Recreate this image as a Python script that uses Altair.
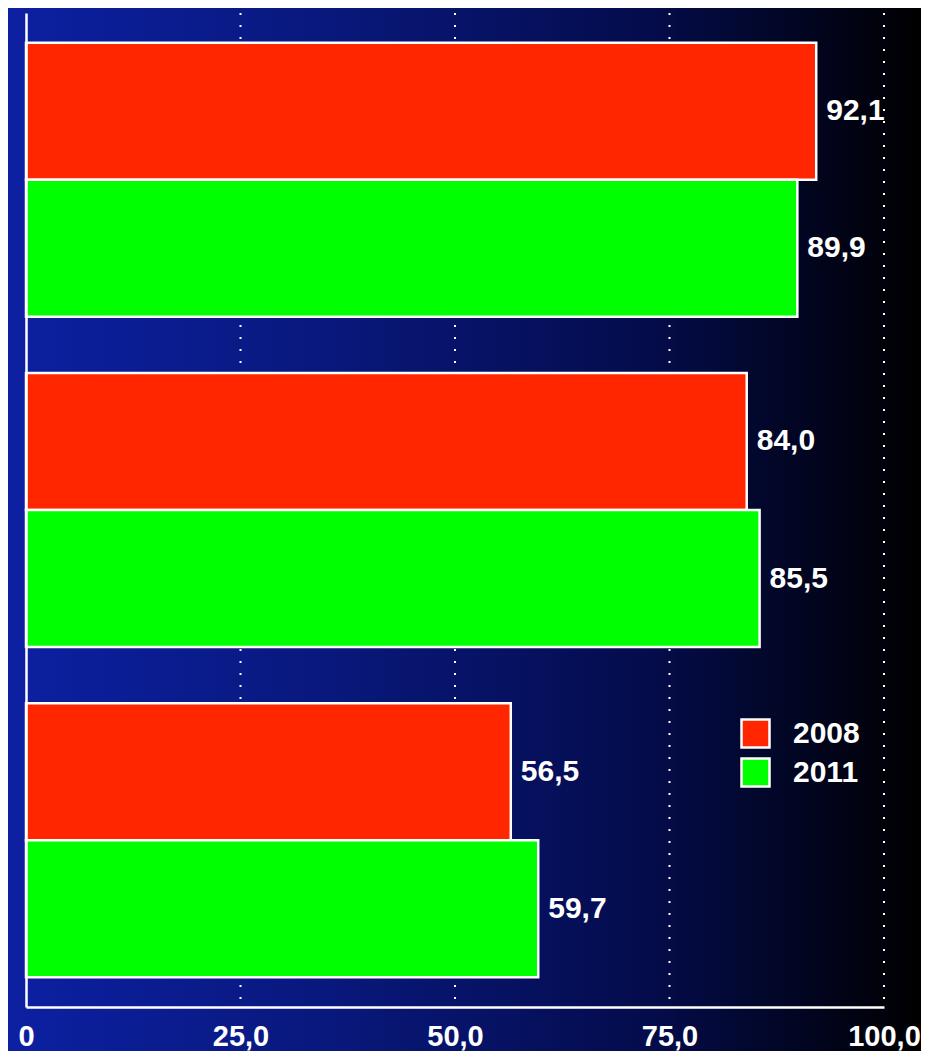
import altair as alt
import pandas as pd

groups = ["1", "2", "3"]
years = ["2008", "2011"]
values_2008 = [92.1, 84.0, 56.5]
values_2011 = [89.9, 85.5, 59.7]
x_ticks = [0, 25, 50, 75, 100]
colors = ["#FF2600", "#00FF00"]

rows = []
for g, a, b in zip(groups, values_2008, values_2011):
    rows.append({"group": g, "year": years[0], "value": a})
    rows.append({"group": g, "year": years[1], "value": b})
df = pd.DataFrame(rows)

W, H = 858, 994
PAD = {"left": 18, "top": 5, "right": 37, "bottom": 44}
FONT = "Liberation Sans"

bg = alt.Chart(pd.DataFrame({"k": [0]})).mark_rect(
    fill=alt.LinearGradient(
        gradient="linear", x1=0, y1=0, x2=1, y2=0,
        stops=[
            alt.GradientStop(color="#0c20a2", offset=0),
            alt.GradientStop(color="#09187c", offset=0.35),
            alt.GradientStop(color="#040c4c", offset=0.7),
            alt.GradientStop(color="#000000", offset=1),
        ],
    ),
    strokeWidth=0,
).encode(
    x=alt.value(-PAD["left"]), x2=alt.value(W + PAD["right"]),
    y=alt.value(-PAD["top"]), y2=alt.value(H + PAD["bottom"]),
)

x_scale = alt.Scale(domain=[0, 100], nice=False, zero=True)

grid = alt.Chart(pd.DataFrame({"tick": x_ticks[1:]})).mark_rule(
    color="white", strokeDash=[2, 10], strokeWidth=2
).encode(x=alt.X("tick:Q", scale=x_scale, title=None))

base = alt.Chart(df).transform_calculate(
    label="replace(format(datum.value, '.1f'), '.', ',')"
)

y_enc = alt.Y(
    "group:N", sort=groups, title=None,
    scale=alt.Scale(paddingInner=0.17, paddingOuter=0.09),
    axis=alt.Axis(labels=False, ticks=False, grid=False, domain=True,
                  domainColor="white", domainWidth=2.5, zindex=1),
)
yoff = alt.YOffset("year:N", sort=years, scale=alt.Scale(paddingInner=0, paddingOuter=0))
x_enc = alt.X(
    "value:Q", scale=x_scale, title=None,
    axis=alt.Axis(
        values=x_ticks,
        labelExpr="datum.value == 0 ? '0' : replace(format(datum.value, '.1f'), '.', ',')",
        grid=False, ticks=False, domainColor="white", domainWidth=2.5,
        labelColor="white", labelFontSize=29, labelFontWeight="bold",
        labelFont=FONT, labelPadding=15, labelFlush=False, labelOverlap=False, zindex=1,
    ),
)

bars = base.mark_bar(stroke="white", strokeWidth=2.5).encode(
    x=x_enc, y=y_enc, yOffset=yoff,
    color=alt.Color(
        "year:N", sort=years,
        scale=alt.Scale(domain=years, range=colors),
        legend=alt.Legend(
            orient="none", legendX=714, legendY=705, title=None,
            symbolType="square", symbolSize=784, symbolStrokeColor="white",
            symbolStrokeWidth=2.5, symbolOpacity=1,
            labelColor="white", labelFontSize=30, labelFontWeight="bold",
            labelFont=FONT, labelOffset=22, rowPadding=0,
        ),
    ),
)

text = base.mark_text(
    align="left", baseline="middle", dx=10, fontSize=30, fontWeight="bold",
    color="white", font=FONT,
).encode(x=alt.X("value:Q", scale=x_scale), y=alt.Y("group:N", sort=groups), yOffset=yoff, text="label:N")

chart = alt.layer(bg, grid, bars, text).properties(
    width=W, height=H, padding=PAD,
    autosize=alt.AutoSizeParams(type="none"),
    background="#000000",
).configure_view(stroke=None)

chart.save("out.html", embed_options={"renderer": "svg", "actions": False})
